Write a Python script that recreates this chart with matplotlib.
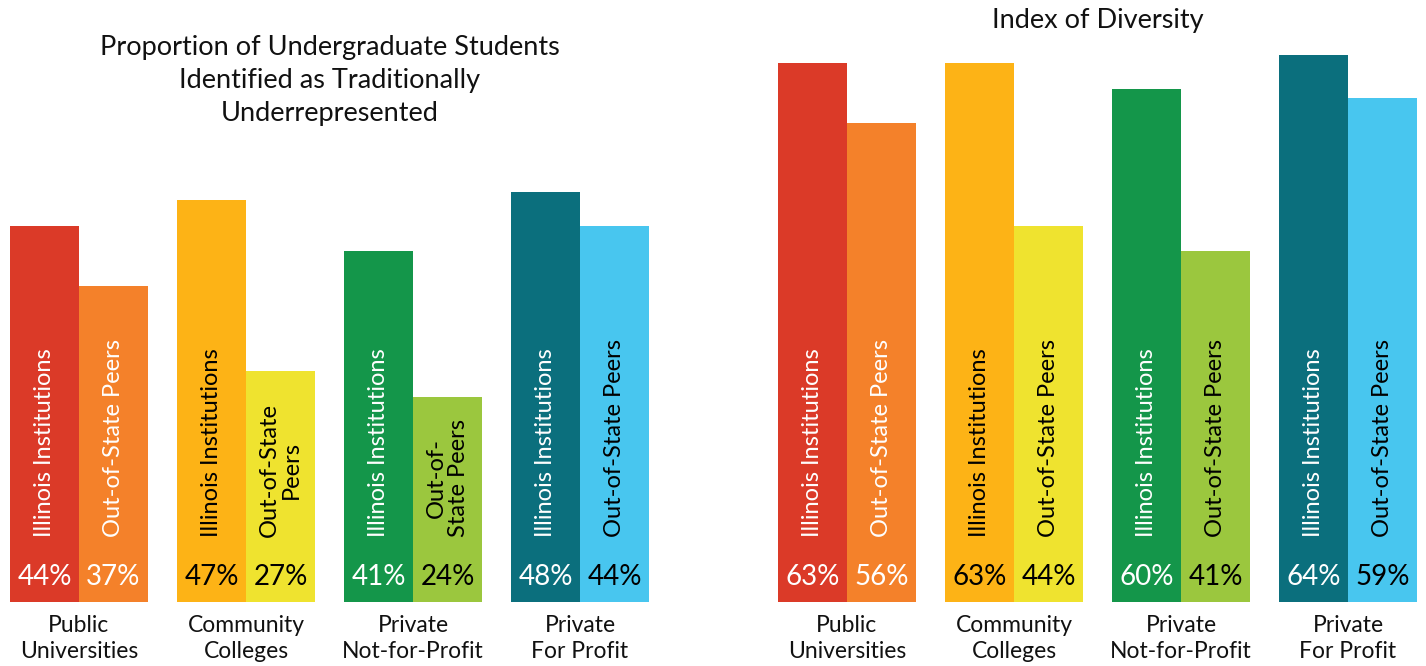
import matplotlib
matplotlib.use("Agg")
import matplotlib.pyplot as plt
import numpy as np

plt.rcParams['font.family'] = ['Lato', 'DejaVu Sans']

# data
categories = ["Public\nUniversities", "Community\nColleges", "Private\nNot-for-Profit", "Private\nFor Profit"]
illinois_urm = [44, 47, 41, 48]
peers_urm = [37, 27, 24, 44]
illinois_div = [63, 63, 60, 64]
peers_div = [56, 44, 41, 59]

illinois_colors = ["#DB3A28", "#FDB316", "#14964A", "#0B6F7D"]
peers_colors = ["#F4812A", "#EFE32F", "#9BC73E", "#48C6EF"]
illinois_text = ["white", "black", "white", "white"]
peers_text = ["white", "black", "black", "black"]

urm_peer_labels = ["Out-of-State Peers", "Out-of-State\nPeers", "Out-of-\nState Peers", "Out-of-State Peers"]
div_peer_labels = ["Out-of-State Peers"] * 4

W, H = 1426, 666
w = 0.413
ymax = 70


def draw(ax, ill, peer, peer_labels, title, title_y, title_ls):
    x = np.arange(len(categories))
    ax.bar(x - w / 2, ill, width=w, color=illinois_colors, linewidth=0)
    ax.bar(x + w / 2, peer, width=w, color=peers_colors, linewidth=0)
    for i in range(len(categories)):
        ax.text(x[i] - w / 2, 7.6, "Illinois Institutions", rotation=90,
                ha="center", va="bottom", color=illinois_text[i], fontsize=17,
                multialignment="center", linespacing=1.05)
        ax.text(x[i] + w / 2, 7.6, peer_labels[i], rotation=90,
                ha="center", va="bottom", color=peers_text[i], fontsize=17,
                multialignment="center", linespacing=1.05)
        ax.text(x[i] - w / 2, 2.9, f"{ill[i]}%", ha="center", va="center",
                color=illinois_text[i], fontsize=20)
        ax.text(x[i] + w / 2, 2.9, f"{peer[i]}%", ha="center", va="center",
                color=peers_text[i], fontsize=20)
        ax.text(x[i], -1.5, categories[i], ha="center", va="top",
                fontsize=16.5, linespacing=1.3, color="#111111")
    ax.set_xlim(-w, len(categories) - 1 + w)
    ax.set_ylim(0, ymax)
    ax.axis("off")
    pos = ax.get_position()
    fig.text((pos.x0 + pos.x1) / 2, title_y, title, ha="center", va="top",
             fontsize=19.5, linespacing=title_ls, color="#111111")


fig = plt.figure(figsize=(W / 100, H / 100), dpi=100)
bottom = (H - 602) / H
height = ymax * 8.55 / H
ax1 = fig.add_axes([10 / W, bottom, 639 / W, height])
ax2 = fig.add_axes([778 / W, bottom, 639 / W, height])

draw(ax1, illinois_urm, peers_urm, urm_peer_labels,
     "Proportion of Undergraduate Students\nIdentified as Traditionally\nUnderrepresented", 1 - 35 / H, 1.4)
draw(ax2, illinois_div, peers_div, div_peer_labels, "Index of Diversity", 1 - 8 / H, 1.2)

fig.savefig("out.png", dpi=100)
